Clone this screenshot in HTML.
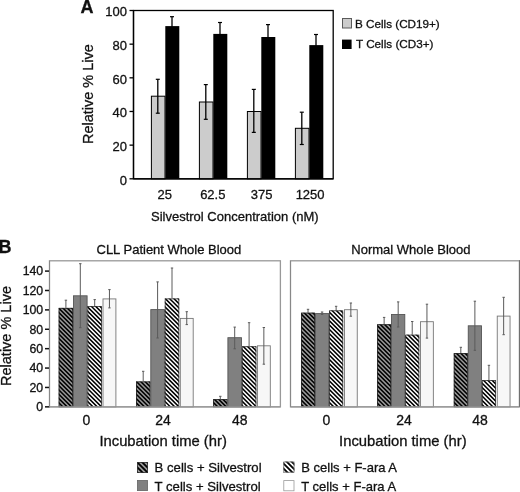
<!DOCTYPE html>
<html><head><meta charset="utf-8"><style>
html,body{margin:0;padding:0;background:#fff;width:520px;height:492px;overflow:hidden}
svg{display:block;will-change:transform}
text{font-family:"Liberation Sans", sans-serif;fill:#111;stroke:#111;stroke-width:0.3px}
</style></head><body>
<svg width="520" height="492" viewBox="0 0 520 492">
<defs>
<pattern id="hatchDark" patternUnits="userSpaceOnUse" width="43.0" height="43.0"><rect width="43.0" height="43.0" fill="#999"/><path d="M-2.00,-49.30L45.00,-2.30M-2.00,-45.00L45.00,2.00M-2.00,-40.70L45.00,6.30M-2.00,-36.40L45.00,10.60M-2.00,-32.10L45.00,14.90M-2.00,-27.80L45.00,19.20M-2.00,-23.50L45.00,23.50M-2.00,-19.20L45.00,27.80M-2.00,-14.90L45.00,32.10M-2.00,-10.60L45.00,36.40M-2.00,-6.30L45.00,40.70M-2.00,-2.00L45.00,45.00M-2.00,2.30L45.00,49.30M-2.00,6.60L45.00,53.60M-2.00,10.90L45.00,57.90M-2.00,15.20L45.00,62.20M-2.00,19.50L45.00,66.50M-2.00,23.80L45.00,70.80M-2.00,28.10L45.00,75.10M-2.00,32.40L45.00,79.40M-2.00,36.70L45.00,83.70M-2.00,41.00L45.00,88.00M-2.00,45.30L45.00,92.30" stroke="#000" stroke-width="1.55"/></pattern>
<pattern id="hatchLight" patternUnits="userSpaceOnUse" width="43.0" height="43.0"><rect width="43.0" height="43.0" fill="#fff"/><path d="M-2.00,-49.30L45.00,-2.30M-2.00,-45.00L45.00,2.00M-2.00,-40.70L45.00,6.30M-2.00,-36.40L45.00,10.60M-2.00,-32.10L45.00,14.90M-2.00,-27.80L45.00,19.20M-2.00,-23.50L45.00,23.50M-2.00,-19.20L45.00,27.80M-2.00,-14.90L45.00,32.10M-2.00,-10.60L45.00,36.40M-2.00,-6.30L45.00,40.70M-2.00,-2.00L45.00,45.00M-2.00,2.30L45.00,49.30M-2.00,6.60L45.00,53.60M-2.00,10.90L45.00,57.90M-2.00,15.20L45.00,62.20M-2.00,19.50L45.00,66.50M-2.00,23.80L45.00,70.80M-2.00,28.10L45.00,75.10M-2.00,32.40L45.00,79.40M-2.00,36.70L45.00,83.70M-2.00,41.00L45.00,88.00M-2.00,45.30L45.00,92.30" stroke="#000" stroke-width="1.55"/></pattern>
<pattern id="hatchDarkL" patternUnits="userSpaceOnUse" width="20" height="20"><rect width="20" height="20" fill="#999"/><path d="M-2.00,-27.00L22.00,-3.00M-2.00,-22.00L22.00,2.00M-2.00,-17.00L22.00,7.00M-2.00,-12.00L22.00,12.00M-2.00,-7.00L22.00,17.00M-2.00,-2.00L22.00,22.00M-2.00,3.00L22.00,27.00M-2.00,8.00L22.00,32.00M-2.00,13.00L22.00,37.00M-2.00,18.00L22.00,42.00M-2.00,23.00L22.00,47.00" stroke="#000" stroke-width="1.8"/></pattern>
<pattern id="hatchLightL" patternUnits="userSpaceOnUse" width="20" height="20"><rect width="20" height="20" fill="#fff"/><path d="M-2.00,-27.00L22.00,-3.00M-2.00,-22.00L22.00,2.00M-2.00,-17.00L22.00,7.00M-2.00,-12.00L22.00,12.00M-2.00,-7.00L22.00,17.00M-2.00,-2.00L22.00,22.00M-2.00,3.00L22.00,27.00M-2.00,8.00L22.00,32.00M-2.00,13.00L22.00,37.00M-2.00,18.00L22.00,42.00M-2.00,23.00L22.00,47.00" stroke="#000" stroke-width="1.8"/></pattern>
</defs>
<text x="80.6" y="12.5" font-size="18" font-weight="bold">A</text>
<rect x="133.5" y="10.5" width="199.7" height="168.3" fill="none" stroke="#000" stroke-width="1.3"/>
<line x1="129.5" y1="178.80" x2="133.5" y2="178.80" stroke="#000" stroke-width="1.3"/>
<text x="127" y="184.50" font-size="13" text-anchor="end">0</text>
<line x1="129.5" y1="145.14" x2="133.5" y2="145.14" stroke="#000" stroke-width="1.3"/>
<text x="127" y="150.84" font-size="13" text-anchor="end">20</text>
<line x1="129.5" y1="111.48" x2="133.5" y2="111.48" stroke="#000" stroke-width="1.3"/>
<text x="127" y="117.18" font-size="13" text-anchor="end">40</text>
<line x1="129.5" y1="77.82" x2="133.5" y2="77.82" stroke="#000" stroke-width="1.3"/>
<text x="127" y="83.52" font-size="13" text-anchor="end">60</text>
<line x1="129.5" y1="44.16" x2="133.5" y2="44.16" stroke="#000" stroke-width="1.3"/>
<text x="127" y="49.86" font-size="13" text-anchor="end">80</text>
<line x1="129.5" y1="10.50" x2="133.5" y2="10.50" stroke="#000" stroke-width="1.3"/>
<text x="127" y="16.20" font-size="13" text-anchor="end">100</text>
<text transform="translate(92.7,94.1) rotate(-90)" font-size="14.5" text-anchor="middle">Relative % Live</text>
<rect x="151.4" y="96.2" width="13.6" height="82.60000000000001" fill="#cccccc" stroke="#000" stroke-width="1"/>
<rect x="165.3" y="26.1" width="14" height="152.70000000000002" fill="#000"/>
<line x1="157.8" y1="79.3" x2="157.8" y2="113.2" stroke="#000" stroke-width="1.3"/>
<line x1="155.8" y1="79.3" x2="159.8" y2="79.3" stroke="#000" stroke-width="1.2"/>
<line x1="155.8" y1="113.2" x2="159.8" y2="113.2" stroke="#000" stroke-width="1.2"/>
<line x1="172" y1="16.7" x2="172" y2="27.1" stroke="#000" stroke-width="1.3"/>
<line x1="170" y1="16.7" x2="174" y2="16.7" stroke="#000" stroke-width="1.2"/>
<text x="164.8" y="198.8" font-size="13" text-anchor="middle">25</text>
<rect x="199.4" y="102" width="13.6" height="76.80000000000001" fill="#cccccc" stroke="#000" stroke-width="1"/>
<rect x="213.3" y="33.9" width="14" height="144.9" fill="#000"/>
<line x1="205.8" y1="84.6" x2="205.8" y2="119.3" stroke="#000" stroke-width="1.3"/>
<line x1="203.8" y1="84.6" x2="207.8" y2="84.6" stroke="#000" stroke-width="1.2"/>
<line x1="203.8" y1="119.3" x2="207.8" y2="119.3" stroke="#000" stroke-width="1.2"/>
<line x1="220" y1="22.5" x2="220" y2="34.9" stroke="#000" stroke-width="1.3"/>
<line x1="218" y1="22.5" x2="222" y2="22.5" stroke="#000" stroke-width="1.2"/>
<text x="212.8" y="198.8" font-size="13" text-anchor="middle">62.5</text>
<rect x="247.4" y="111.5" width="13.6" height="67.30000000000001" fill="#cccccc" stroke="#000" stroke-width="1"/>
<rect x="261.3" y="37" width="14" height="141.8" fill="#000"/>
<line x1="253.8" y1="89.4" x2="253.8" y2="132.4" stroke="#000" stroke-width="1.3"/>
<line x1="251.8" y1="89.4" x2="255.8" y2="89.4" stroke="#000" stroke-width="1.2"/>
<line x1="251.8" y1="132.4" x2="255.8" y2="132.4" stroke="#000" stroke-width="1.2"/>
<line x1="268" y1="24.6" x2="268" y2="38" stroke="#000" stroke-width="1.3"/>
<line x1="266" y1="24.6" x2="270" y2="24.6" stroke="#000" stroke-width="1.2"/>
<text x="261.6" y="198.8" font-size="13" text-anchor="middle">375</text>
<rect x="295.4" y="128.3" width="13.6" height="50.5" fill="#cccccc" stroke="#000" stroke-width="1"/>
<rect x="309.3" y="45.1" width="14" height="133.70000000000002" fill="#000"/>
<line x1="301.8" y1="112.2" x2="301.8" y2="144.5" stroke="#000" stroke-width="1.3"/>
<line x1="299.8" y1="112.2" x2="303.8" y2="112.2" stroke="#000" stroke-width="1.2"/>
<line x1="299.8" y1="144.5" x2="303.8" y2="144.5" stroke="#000" stroke-width="1.2"/>
<line x1="316" y1="34.5" x2="316" y2="46.1" stroke="#000" stroke-width="1.3"/>
<line x1="314" y1="34.5" x2="318" y2="34.5" stroke="#000" stroke-width="1.2"/>
<text x="310.1" y="198.8" font-size="13" text-anchor="middle">1250</text>
<line x1="133.5" y1="10.5" x2="133.5" y2="178.8" stroke="#000" stroke-width="1.3"/>
<line x1="133.5" y1="178.8" x2="333.2" y2="178.8" stroke="#000" stroke-width="1.3"/>
<text x="151" y="220.8" font-size="13">Silvestrol Concentration (nM)</text>
<rect x="342.5" y="18.5" width="9" height="9.5" fill="#cccccc" stroke="#5a5a5a" stroke-width="1"/>
<text x="355" y="27.6" font-size="11.7">B Cells (CD19+)</text>
<rect x="342" y="39.6" width="9.6" height="9.4" fill="#000"/>
<text x="356" y="48" font-size="11.7">T Cells (CD3+)</text>
<text x="-1.6" y="252.9" font-size="18" font-weight="bold">B</text>
<rect x="49.5" y="260.8" width="230.89999999999998" height="146.05" fill="none" stroke="#999" stroke-width="1.3"/>
<rect x="290.5" y="260.8" width="228.89999999999998" height="146.05" fill="none" stroke="#999" stroke-width="1.3"/>
<line x1="45" y1="406.85" x2="49.5" y2="406.85" stroke="#111" stroke-width="1.5"/>
<text x="43.2" y="411.15" font-size="12.3" text-anchor="end">0</text>
<line x1="45" y1="387.46" x2="49.5" y2="387.46" stroke="#111" stroke-width="1.5"/>
<text x="43.2" y="391.76" font-size="12.3" text-anchor="end">20</text>
<line x1="45" y1="368.06" x2="49.5" y2="368.06" stroke="#111" stroke-width="1.5"/>
<text x="43.2" y="372.36" font-size="12.3" text-anchor="end">40</text>
<line x1="45" y1="348.67" x2="49.5" y2="348.67" stroke="#111" stroke-width="1.5"/>
<text x="43.2" y="352.97" font-size="12.3" text-anchor="end">60</text>
<line x1="45" y1="329.28" x2="49.5" y2="329.28" stroke="#111" stroke-width="1.5"/>
<text x="43.2" y="333.58" font-size="12.3" text-anchor="end">80</text>
<line x1="45" y1="309.89" x2="49.5" y2="309.89" stroke="#111" stroke-width="1.5"/>
<text x="43.2" y="314.19" font-size="12.3" text-anchor="end">100</text>
<line x1="45" y1="290.49" x2="49.5" y2="290.49" stroke="#111" stroke-width="1.5"/>
<text x="43.2" y="294.79" font-size="12.3" text-anchor="end">120</text>
<line x1="45" y1="271.10" x2="49.5" y2="271.10" stroke="#111" stroke-width="1.5"/>
<text x="43.2" y="275.40" font-size="12.3" text-anchor="end">140</text>
<text transform="translate(11.0,336.0) rotate(-90)" font-size="14.5" text-anchor="middle">Relative % Live</text>
<rect x="58.7" y="307.9" width="14.4" height="98.95000000000005" fill="url(#hatchDark)"/>
<rect x="59.1" y="308.29999999999995" width="13.6" height="98.55000000000004" fill="none" stroke="#222" stroke-width="0.8"/>
<rect x="73.50000000000001" y="295.79999999999995" width="13.6" height="111.05000000000004" fill="#808080" stroke="#555" stroke-width="0.9"/>
<rect x="87.5" y="306" width="14.4" height="100.85000000000002" fill="url(#hatchLight)"/>
<rect x="87.9" y="306.4" width="13.6" height="100.45000000000002" fill="none" stroke="#333" stroke-width="0.8"/>
<rect x="103.00000000000001" y="298.9" width="12.899999999999999" height="107.95000000000002" fill="#f7f7f7" stroke="#777" stroke-width="0.9"/>
<line x1="65.9" y1="300.2" x2="65.9" y2="307.9" stroke="#5a5a5a" stroke-width="1"/>
<line x1="64.7" y1="300.2" x2="67.10000000000001" y2="300.2" stroke="#5a5a5a" stroke-width="1"/>
<line x1="80.30000000000001" y1="263.7" x2="80.30000000000001" y2="327.7" stroke="#5a5a5a" stroke-width="1"/>
<line x1="79.10000000000001" y1="263.7" x2="81.50000000000001" y2="263.7" stroke="#5a5a5a" stroke-width="1"/>
<line x1="79.10000000000001" y1="327.7" x2="81.50000000000001" y2="327.7" stroke="#5a5a5a" stroke-width="1"/>
<line x1="94.7" y1="299.6" x2="94.7" y2="306" stroke="#5a5a5a" stroke-width="1"/>
<line x1="93.5" y1="299.6" x2="95.9" y2="299.6" stroke="#5a5a5a" stroke-width="1"/>
<line x1="109.45" y1="289.6" x2="109.45" y2="307.9" stroke="#5a5a5a" stroke-width="1"/>
<line x1="108.25" y1="289.6" x2="110.65" y2="289.6" stroke="#5a5a5a" stroke-width="1"/>
<line x1="108.25" y1="307.9" x2="110.65" y2="307.9" stroke="#5a5a5a" stroke-width="1"/>
<rect x="136.0" y="381.5" width="14.4" height="25.350000000000023" fill="url(#hatchDark)"/>
<rect x="136.4" y="381.9" width="13.6" height="24.950000000000024" fill="none" stroke="#222" stroke-width="0.8"/>
<rect x="150.8" y="309.59999999999997" width="13.6" height="97.25000000000003" fill="#808080" stroke="#555" stroke-width="0.9"/>
<rect x="164.8" y="298.5" width="14.4" height="108.35000000000002" fill="url(#hatchLight)"/>
<rect x="165.20000000000002" y="298.9" width="13.6" height="107.95000000000002" fill="none" stroke="#333" stroke-width="0.8"/>
<rect x="180.29999999999998" y="318.4" width="12.899999999999999" height="88.45000000000002" fill="#f7f7f7" stroke="#777" stroke-width="0.9"/>
<line x1="143.2" y1="371.3" x2="143.2" y2="381.5" stroke="#5a5a5a" stroke-width="1"/>
<line x1="142.0" y1="371.3" x2="144.39999999999998" y2="371.3" stroke="#5a5a5a" stroke-width="1"/>
<line x1="157.6" y1="281.9" x2="157.6" y2="338" stroke="#5a5a5a" stroke-width="1"/>
<line x1="156.4" y1="281.9" x2="158.79999999999998" y2="281.9" stroke="#5a5a5a" stroke-width="1"/>
<line x1="156.4" y1="338" x2="158.79999999999998" y2="338" stroke="#5a5a5a" stroke-width="1"/>
<line x1="172.0" y1="268" x2="172.0" y2="298.5" stroke="#5a5a5a" stroke-width="1"/>
<line x1="170.8" y1="268" x2="173.2" y2="268" stroke="#5a5a5a" stroke-width="1"/>
<line x1="186.74999999999997" y1="311.7" x2="186.74999999999997" y2="324.6" stroke="#5a5a5a" stroke-width="1"/>
<line x1="185.54999999999998" y1="311.7" x2="187.94999999999996" y2="311.7" stroke="#5a5a5a" stroke-width="1"/>
<line x1="185.54999999999998" y1="324.6" x2="187.94999999999996" y2="324.6" stroke="#5a5a5a" stroke-width="1"/>
<rect x="213.1" y="399.2" width="14.4" height="7.650000000000034" fill="url(#hatchDark)"/>
<rect x="213.5" y="399.59999999999997" width="13.6" height="7.250000000000034" fill="none" stroke="#222" stroke-width="0.8"/>
<rect x="227.9" y="337.7" width="13.6" height="69.15" fill="#808080" stroke="#555" stroke-width="0.9"/>
<rect x="241.9" y="346.3" width="14.4" height="60.55000000000001" fill="url(#hatchLight)"/>
<rect x="242.3" y="346.7" width="13.6" height="60.15000000000001" fill="none" stroke="#333" stroke-width="0.8"/>
<rect x="257.4" y="345.79999999999995" width="12.899999999999999" height="61.05000000000005" fill="#f7f7f7" stroke="#777" stroke-width="0.9"/>
<line x1="220.29999999999998" y1="396.3" x2="220.29999999999998" y2="399.2" stroke="#5a5a5a" stroke-width="1"/>
<line x1="219.1" y1="396.3" x2="221.49999999999997" y2="396.3" stroke="#5a5a5a" stroke-width="1"/>
<line x1="234.7" y1="327.1" x2="234.7" y2="348.8" stroke="#5a5a5a" stroke-width="1"/>
<line x1="233.5" y1="327.1" x2="235.89999999999998" y2="327.1" stroke="#5a5a5a" stroke-width="1"/>
<line x1="233.5" y1="348.8" x2="235.89999999999998" y2="348.8" stroke="#5a5a5a" stroke-width="1"/>
<line x1="249.1" y1="322.7" x2="249.1" y2="346.3" stroke="#5a5a5a" stroke-width="1"/>
<line x1="247.9" y1="322.7" x2="250.29999999999998" y2="322.7" stroke="#5a5a5a" stroke-width="1"/>
<line x1="263.85" y1="327.5" x2="263.85" y2="364.2" stroke="#5a5a5a" stroke-width="1"/>
<line x1="262.65000000000003" y1="327.5" x2="265.05" y2="327.5" stroke="#5a5a5a" stroke-width="1"/>
<line x1="262.65000000000003" y1="364.2" x2="265.05" y2="364.2" stroke="#5a5a5a" stroke-width="1"/>
<rect x="301.0" y="312.7" width="14.05" height="94.15000000000003" fill="url(#hatchDark)"/>
<rect x="301.4" y="313.09999999999997" width="13.25" height="93.75000000000003" fill="none" stroke="#222" stroke-width="0.8"/>
<rect x="315.45" y="313.59999999999997" width="13.25" height="93.25000000000003" fill="#808080" stroke="#555" stroke-width="0.9"/>
<rect x="329.1" y="310.4" width="14.05" height="96.45000000000005" fill="url(#hatchLight)"/>
<rect x="329.5" y="310.79999999999995" width="13.25" height="96.05000000000004" fill="none" stroke="#333" stroke-width="0.8"/>
<rect x="344.44999999999993" y="309.7" width="12.799999999999999" height="97.15" fill="#f7f7f7" stroke="#777" stroke-width="0.9"/>
<line x1="308.025" y1="309.3" x2="308.025" y2="312.7" stroke="#5a5a5a" stroke-width="1"/>
<line x1="306.825" y1="309.3" x2="309.22499999999997" y2="309.3" stroke="#5a5a5a" stroke-width="1"/>
<line x1="322.075" y1="312" x2="322.075" y2="314.4" stroke="#5a5a5a" stroke-width="1"/>
<line x1="320.875" y1="312" x2="323.275" y2="312" stroke="#5a5a5a" stroke-width="1"/>
<line x1="320.875" y1="314.4" x2="323.275" y2="314.4" stroke="#5a5a5a" stroke-width="1"/>
<line x1="336.125" y1="306.3" x2="336.125" y2="310.4" stroke="#5a5a5a" stroke-width="1"/>
<line x1="334.925" y1="306.3" x2="337.325" y2="306.3" stroke="#5a5a5a" stroke-width="1"/>
<line x1="350.84999999999997" y1="303" x2="350.84999999999997" y2="316.2" stroke="#5a5a5a" stroke-width="1"/>
<line x1="349.65" y1="303" x2="352.04999999999995" y2="303" stroke="#5a5a5a" stroke-width="1"/>
<line x1="349.65" y1="316.2" x2="352.04999999999995" y2="316.2" stroke="#5a5a5a" stroke-width="1"/>
<rect x="377.1" y="324.3" width="14.05" height="82.55000000000001" fill="url(#hatchDark)"/>
<rect x="377.5" y="324.7" width="13.25" height="82.15" fill="none" stroke="#222" stroke-width="0.8"/>
<rect x="391.55" y="314.5" width="13.25" height="92.35" fill="#808080" stroke="#555" stroke-width="0.9"/>
<rect x="405.20000000000005" y="334.7" width="14.05" height="72.15000000000003" fill="url(#hatchLight)"/>
<rect x="405.6" y="335.09999999999997" width="13.25" height="71.75000000000003" fill="none" stroke="#333" stroke-width="0.8"/>
<rect x="420.54999999999995" y="321.7" width="12.799999999999999" height="85.15" fill="#f7f7f7" stroke="#777" stroke-width="0.9"/>
<line x1="384.125" y1="317.4" x2="384.125" y2="324.3" stroke="#5a5a5a" stroke-width="1"/>
<line x1="382.925" y1="317.4" x2="385.325" y2="317.4" stroke="#5a5a5a" stroke-width="1"/>
<line x1="398.175" y1="301.9" x2="398.175" y2="327" stroke="#5a5a5a" stroke-width="1"/>
<line x1="396.975" y1="301.9" x2="399.375" y2="301.9" stroke="#5a5a5a" stroke-width="1"/>
<line x1="396.975" y1="327" x2="399.375" y2="327" stroke="#5a5a5a" stroke-width="1"/>
<line x1="412.225" y1="321.5" x2="412.225" y2="334.7" stroke="#5a5a5a" stroke-width="1"/>
<line x1="411.02500000000003" y1="321.5" x2="413.425" y2="321.5" stroke="#5a5a5a" stroke-width="1"/>
<line x1="426.95" y1="304.2" x2="426.95" y2="338.1" stroke="#5a5a5a" stroke-width="1"/>
<line x1="425.75" y1="304.2" x2="428.15" y2="304.2" stroke="#5a5a5a" stroke-width="1"/>
<line x1="425.75" y1="338.1" x2="428.15" y2="338.1" stroke="#5a5a5a" stroke-width="1"/>
<rect x="453.8" y="353.1" width="14.05" height="53.75" fill="url(#hatchDark)"/>
<rect x="454.2" y="353.5" width="13.25" height="53.35" fill="none" stroke="#222" stroke-width="0.8"/>
<rect x="468.25" y="325.79999999999995" width="13.25" height="81.05000000000004" fill="#808080" stroke="#555" stroke-width="0.9"/>
<rect x="481.90000000000003" y="380.1" width="14.05" height="26.75" fill="url(#hatchLight)"/>
<rect x="482.3" y="380.5" width="13.25" height="26.35" fill="none" stroke="#333" stroke-width="0.8"/>
<rect x="497.25" y="316.09999999999997" width="12.799999999999999" height="90.75000000000003" fill="#f7f7f7" stroke="#777" stroke-width="0.9"/>
<line x1="460.825" y1="347.3" x2="460.825" y2="353.1" stroke="#5a5a5a" stroke-width="1"/>
<line x1="459.625" y1="347.3" x2="462.025" y2="347.3" stroke="#5a5a5a" stroke-width="1"/>
<line x1="474.875" y1="301.2" x2="474.875" y2="350.3" stroke="#5a5a5a" stroke-width="1"/>
<line x1="473.675" y1="301.2" x2="476.075" y2="301.2" stroke="#5a5a5a" stroke-width="1"/>
<line x1="473.675" y1="350.3" x2="476.075" y2="350.3" stroke="#5a5a5a" stroke-width="1"/>
<line x1="488.925" y1="365.3" x2="488.925" y2="380.1" stroke="#5a5a5a" stroke-width="1"/>
<line x1="487.725" y1="365.3" x2="490.125" y2="365.3" stroke="#5a5a5a" stroke-width="1"/>
<line x1="503.65000000000003" y1="297.3" x2="503.65000000000003" y2="334.7" stroke="#5a5a5a" stroke-width="1"/>
<line x1="502.45000000000005" y1="297.3" x2="504.85" y2="297.3" stroke="#5a5a5a" stroke-width="1"/>
<line x1="502.45000000000005" y1="334.7" x2="504.85" y2="334.7" stroke="#5a5a5a" stroke-width="1"/>
<line x1="49.5" y1="406.85" x2="280.4" y2="406.85" stroke="#999" stroke-width="1.1"/>
<line x1="49.5" y1="260.8" x2="49.5" y2="406.85" stroke="#888" stroke-width="1"/>
<line x1="290.5" y1="406.85" x2="519.4" y2="406.85" stroke="#999" stroke-width="1.1"/>
<line x1="290.5" y1="260.8" x2="290.5" y2="406.85" stroke="#888" stroke-width="1"/>
<line x1="519.5" y1="260.2" x2="519.5" y2="406.85" stroke="#707070" stroke-width="1"/>
<text x="96.5" y="253.7" font-size="13">CLL Patient Whole Blood</text>
<text x="351.3" y="254.3" font-size="13">Normal Whole Blood</text>
<text x="86.4" y="425" font-size="14" text-anchor="middle">0</text>
<text x="163.0" y="425" font-size="14" text-anchor="middle">24</text>
<text x="239.75" y="425" font-size="14" text-anchor="middle">48</text>
<text x="326.4" y="425" font-size="14" text-anchor="middle">0</text>
<text x="404.0" y="425" font-size="14" text-anchor="middle">24</text>
<text x="480.0" y="425" font-size="14" text-anchor="middle">48</text>
<text x="99.4" y="445.6" font-size="14.8">Incubation time (hr)</text>
<text x="339.1" y="445.6" font-size="14.8">Incubation time (hr)</text>
<rect x="137" y="462" width="11" height="11" fill="url(#hatchDarkL)"/>
<rect x="137.4" y="462.4" width="10.2" height="10.2" fill="none" stroke="#333" stroke-width="0.8"/>
<rect x="137.4" y="480.4" width="10.2" height="10.2" fill="#808080" stroke="#666" stroke-width="0.8"/>
<rect x="283.4" y="461.6" width="11" height="11" fill="url(#hatchLightL)"/>
<rect x="283.8" y="462" width="10.2" height="10.2" fill="none" stroke="#666" stroke-width="0.8"/>
<rect x="283.8" y="480.6" width="10.2" height="10.2" fill="#fff" stroke="#999" stroke-width="0.8"/>
<text x="154.6" y="472.2" font-size="13.15">B cells + Silvestrol</text>
<text x="154.6" y="490.5" font-size="13.15">T cells + Silvestrol</text>
<text x="301.3" y="472.2" font-size="13">B cells + F-ara A</text>
<text x="301.3" y="490.5" font-size="13">T cells + F-ara A</text>
</svg></body></html>
